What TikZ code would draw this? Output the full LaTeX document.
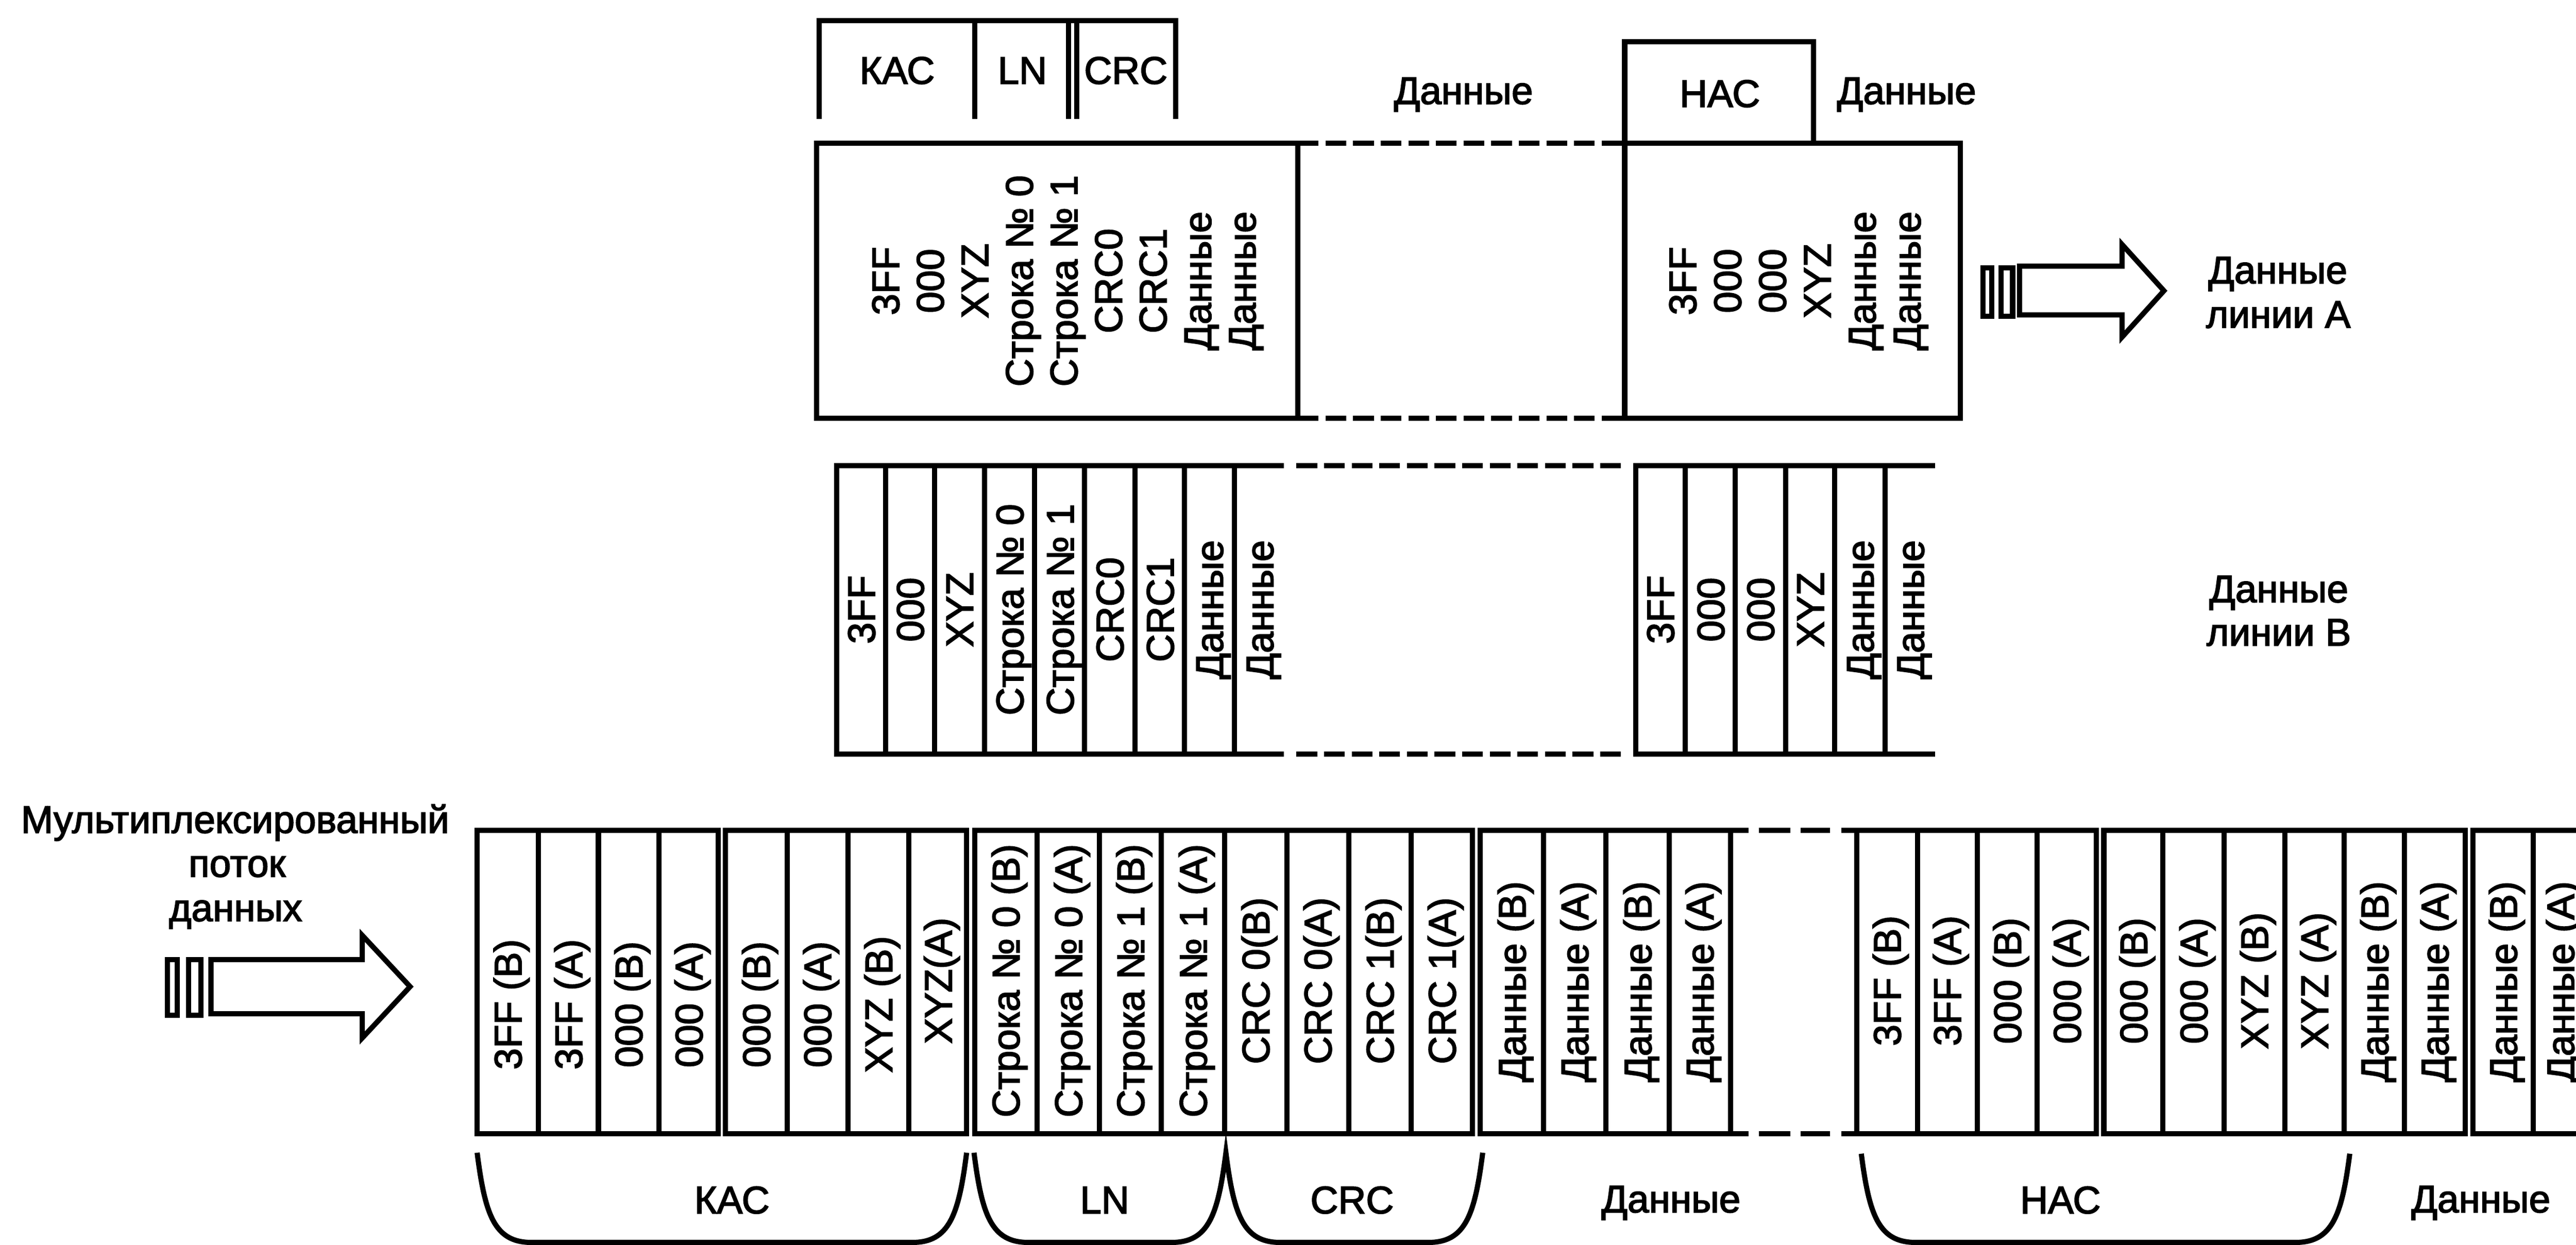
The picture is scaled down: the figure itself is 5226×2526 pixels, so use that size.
\documentclass[tikz,border=0pt]{standalone}
\usepackage{fontspec}
\setmainfont{Liberation Sans}[RawFeature={embolden=2.5}]
\begin{document}
\begin{tikzpicture}[x=0.01cm,y=-0.01cm,
  ln/.style={line width=0.105cm},
  dsh/.style={line width=0.105cm,dash pattern=on 0.42cm off 0.14cm},
  rt/.style={rotate=90,anchor=base,inner sep=0pt},
  lb/.style={anchor=base,inner sep=0pt},
  every node/.style={font=\fontsize{22.2pt}{25.6pt}\selectfont}]
\useasboundingbox (0,0) rectangle (5226,2526);
\clip (0,0) rectangle (5226,2526);

% ---------- header KAC LN CRC ----------
\draw[ln] (1662,241) -- (1662,42) -- (2385,42) -- (2385,241);
\foreach \x in {1977,2168,2184} \draw[ln] (\x,42) -- (\x,241);
\node[lb] (hkac) at (1820,170) {КАС};
\node[lb] (hln) at (2074,170) {LN};
\node[lb] (hcrc) at (2284,170) {CRC};
\node[lb] (hd1) at (2969,211) {Данные};
\node[lb] (hhac) at (3489,217) {НАС};
\node[lb] (hd2) at (3868,211) {Данные};

% ---------- line A boxes ----------
\draw[ln] (1657,291) rectangle (2633,849);
\draw[dsh] (2633,291) -- (3296,291);
\draw[dsh] (2633,849) -- (3296,849);
\draw[ln] (3296,291) rectangle (3977,849);
\draw[ln] (3296,291) -- (3296,85) -- (3679,85) -- (3679,291);
\foreach \t [count=\i from 0] in {3FF,000,XYZ,Строка № 0,Строка № 1,CRC0,CRC1,Данные,Данные}
  \node[rt] (ta\i) at ({1796+90.4*\i+28},570) {\t};
\foreach \t [count=\i from 0] in {3FF,000,000,XYZ,Данные,Данные}
  \node[rt] (tha\i) at ({3413+91*\i+28},570) {\t};

% arrow line A
\draw[ln] (4023,543) rectangle (4041,642);
\draw[ln] (4060,543) rectangle (4083,642);
\draw[ln] (4097,540) -- (4305,540) -- (4305,496) -- (4390,590) -- (4305,684) -- (4305,639) -- (4097,639) -- cycle;
\node[lb] (la1) at (4621,575) {Данные};
\node[lb] (la2) at (4622,665) {линии А};

% ---------- line B ----------
\draw[ln] (2605,945) -- (1697,945) -- (1697,1530) -- (2605,1530);
\foreach \x in {1797,1896,1997,2099,2200,2303,2403,2504} \draw[ln] (\x,945) -- (\x,1530);
\draw[dsh] (2630,945) -- (3290,945);
\draw[dsh] (2630,1530) -- (3290,1530);
\draw[ln] (3926,945) -- (3318,945) -- (3318,1530) -- (3926,1530);
\foreach \x in {3419,3520,3623,3722,3824} \draw[ln] (\x,945) -- (\x,1530);
\foreach \x/\t [count=\i] in {1747/3FF,1846/000,1946/XYZ,2048/Строка № 0,2150/Строка № 1,2251/CRC0,2353/CRC1,2453/Данные,2555/Данные}
  \node[rt] (tb\i) at (\x+28,1237) {\t};
\foreach \x/\t [count=\i] in {3368/3FF,3470/000,3571/000,3672/XYZ,3773/Данные,3875/Данные}
  \node[rt] (thb\i) at (\x+28,1237) {\t};
\node[lb] (lb1) at (4623,1222) {Данные};
\node[lb] (lb2) at (4623,1310) {линии В};

% ---------- multiplexed stream ----------
\node[lb] (mx1) at (477,1690) {Мультиплексированный};
\node[lb] (mx2) at (481,1779) {поток};
\node[lb] (mx3) at (478,1869) {данных};
\draw[ln] (340,1947) rectangle (360,2060);
\draw[ln] (383,1947) rectangle (408,2060);
\draw[ln] (428,1947) -- (735,1947) -- (735,1898) -- (832,2002) -- (735,2106) -- (735,2057) -- (428,2057) -- cycle;

% groups
\draw[ln] (968,1685) rectangle (1457,2300);
\foreach \x in {1092,1214,1337} \draw[ln] (\x,1685) -- (\x,2300);
\draw[ln] (1472,1685) rectangle (1961,2300);
\foreach \x in {1597,1720,1844} \draw[ln] (\x,1685) -- (\x,2300);
\draw[ln] (1977,1685) rectangle (2987,2300);
\foreach \x in {2104,2230,2356,2484,2611,2736,2863} \draw[ln] (\x,1685) -- (\x,2300);
\draw[ln] (3547,1685) -- (3003,1685) -- (3003,2300) -- (3547,2300);
\foreach \x in {3131,3258,3386,3511} \draw[ln] (\x,1685) -- (\x,2300);
\foreach \a/\b in {3568/3632,3653/3712} {
  \draw[ln] (\a,1685) -- (\b,1685);
  \draw[ln] (\a,2300) -- (\b,2300);
}
\draw[ln] (3735,1685) -- (4253,1685) -- (4253,2300) -- (3735,2300);
\foreach \x in {3767,3890,4011,4133} \draw[ln] (\x,1685) -- (\x,2300);
\draw[ln] (4268,1685) rectangle (5001,2300);
\foreach \x in {4388,4512,4635,4756,4878} \draw[ln] (\x,1685) -- (\x,2300);
\draw[ln] (5300,1685) -- (5017,1685) -- (5017,2300) -- (5300,2300);
\foreach \x in {5139,5262} \draw[ln] (\x,1685) -- (\x,2300);

\foreach \x/\t/\y [count=\i] in {
  1030/3FF (В)/2038, 1153/3FF (А)/2038, 1275/000 (В)/2038, 1397/000 (А)/2038,
  1534/000 (В)/2038, 1658/000 (А)/2038, 1782/XYZ (В)/2038, 1903/XYZ(А)/1990,
  2040/Строка № 0 (В)/1990, 2167/Строка № 0 (А)/1990, 2293/Строка № 1 (В)/1990, 2420/Строка № 1 (А)/1990,
  2547/CRC 0(В)/1990, 2673/CRC 0(А)/1990, 2799/CRC 1(В)/1990, 2925/CRC 1(А)/1990,
  3067/Данные (В)/1992, 3194/Данные (А)/1992, 3322/Данные (В)/1992, 3448/Данные (А)/1992,
  3828/3FF (В)/1990, 3950/3FF (А)/1990, 4072/000 (В)/1990, 4193/000 (А)/1990,
  4328/000 (В)/1990, 4450/000 (А)/1990, 4573/XYZ (В)/1990, 4695/XYZ (А)/1990,
  4817/Данные (В)/1992, 4939/Данные (А)/1992, 5078/Данные (В)/1992, 5194/Данные (А)/1992}
  \node[rt] (m\i) at (\x+28,\y) {\t};

% braces
\draw[ln] (968,2339) .. controls (984,2465) and (1003,2521) .. (1078,2521) -- (1851,2521)
  .. controls (1926,2521) and (1945,2465) .. (1961,2339);
\draw[ln] (1976,2339) .. controls (1992,2465) and (2011,2521) .. (2086,2521) -- (2377,2521)
  .. controls (2452,2521) and (2471,2465) .. (2487,2339)
  .. controls (2503,2465) and (2522,2521) .. (2597,2521) -- (2898,2521)
  .. controls (2973,2521) and (2992,2465) .. (3008,2339);
\draw[ln] (3776,2341) .. controls (3792,2465) and (3811,2521) .. (3886,2521) -- (4657,2521)
  .. controls (4732,2521) and (4751,2465) .. (4767,2341);
\node[lb] (lkac) at (1485,2462) {КАС};
\node[lb] (lln) at (2241,2462) {LN};
\node[lb] (lcrc) at (2743,2462) {CRC};
\node[lb] (ld1) at (3390,2460) {Данные};
\node[lb] (lhac) at (4180,2462) {НАС};
\node[lb] (ld2) at (5033,2460) {Данные};
\end{tikzpicture}
\end{document}
